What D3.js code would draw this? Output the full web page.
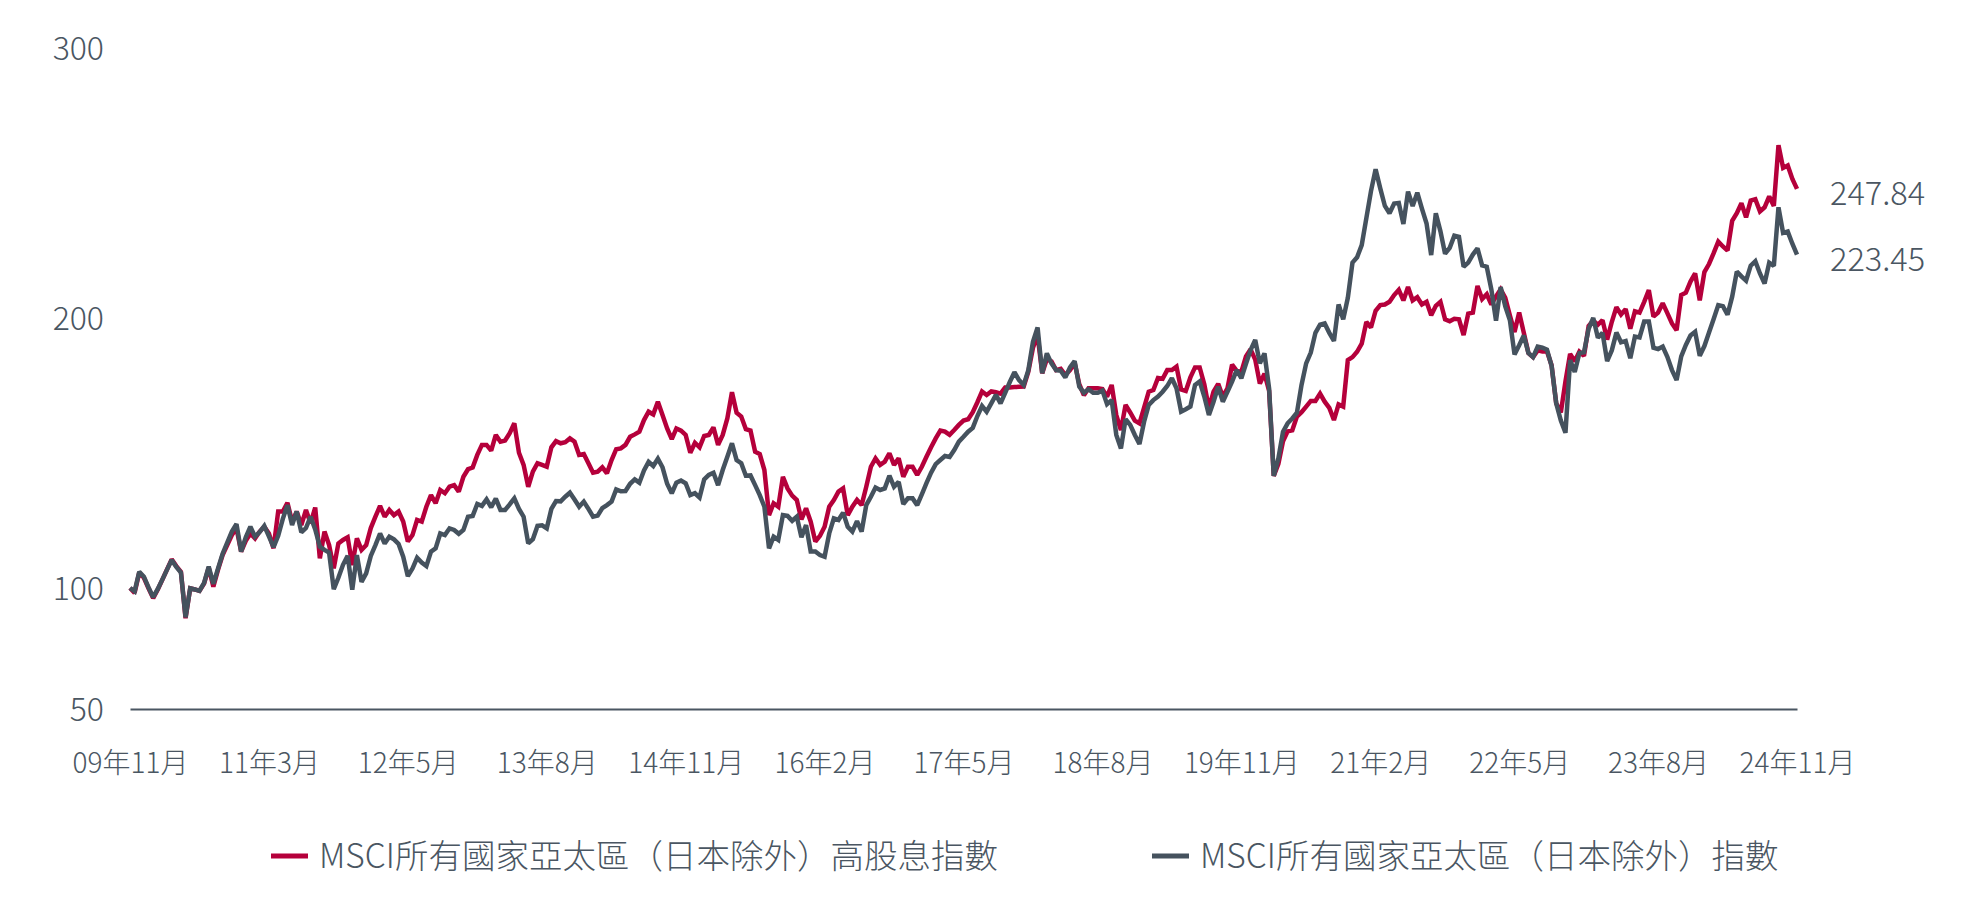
<!DOCTYPE html>
<html>
<head>
<meta charset="utf-8">
<script src="https://cdn.jsdelivr.net/npm/d3@7"></script>
<style>
  html, body { margin: 0; padding: 0; background: #ffffff; }
  svg { display: block; }
  text { font-family: "Noto Sans CJK TC", "Open Sans", sans-serif; font-weight: 300; fill: #4a5662; }
</style>
</head>
<body>
<svg id="chart" width="1984" height="911"></svg>
<script>
// ---- data (half-month steps from Nov 2009 to Nov 2024) ----
const seriesNames = ["MSCI所有國家亞太區（日本除外）高股息指數", "MSCI所有國家亞太區（日本除外）指數"];
const xTickLabels = ["09年11月","11年3月","12年5月","13年8月","14年11月","16年2月","17年5月","18年8月","19年11月","21年2月","22年5月","23年8月","24年11月"];
const yTicks = [50, 100, 200, 300];
const endLabels = ["247.84", "223.45"];

const highDividend = [
100,98.0,105.7,103.8,99.9,95.8,99.4,103.1,106.9,110.6,108.1,106.0,87.5,99.9,99.4,98.8,101.6,107.5,100.5,106.7,
112.2,115.9,119.6,122.1,113.5,117.5,120.2,118.4,120.9,122.7,120.2,114.7,128.3,128.3,131.6,124.6,128.3,123.3,128.9,124.0,
129.8,111.0,120.9,115.9,107.3,116.5,117.8,118.8,108.5,118.4,114.1,115.9,122.2,126.4,130.4,126.4,128.9,127.0,128.3,124.6,
117.2,119.6,125.2,124.6,130.1,134.4,131.4,136.3,135.1,137.5,138.1,135.7,141.2,144.0,144.6,149.3,153.0,153.0,150.9,156.7,
154.2,154.6,157.3,161.0,150.1,145.6,137.5,143.1,146.2,145.6,144.9,152.1,154.4,153.6,154.0,155.4,154.2,149.3,149.6,146.2,
142.7,143.1,144.7,142.5,147.4,151.4,151.7,153.0,156.0,156.9,157.9,162.2,165.3,164.3,169.0,164.1,159.1,155.1,159.1,158.3,
156.7,150.1,153.8,152.1,156.3,156.7,159.5,153.0,156.7,162.8,172.5,164.9,163.5,158.8,158.3,150.5,149.6,143.7,127.0,131.4,
130.1,141.2,136.9,134.2,132.6,125.4,129.5,124.6,117.2,119.3,122.7,130.1,132.6,135.7,136.9,127.0,130.1,132.6,130.7,137.5,
144.9,148.0,145.6,146.8,149.9,145.6,148.0,141.2,144.9,144.9,141.9,144.9,148.6,152.1,155.4,158.3,157.9,156.7,158.5,160.4,
162.0,162.5,165.1,168.8,172.8,171.5,172.8,172.5,172.0,174.3,174.3,174.4,174.5,174.6,180.1,189.0,193.5,179.5,184.8,183.9,
180.7,181.2,178.9,180.7,183.4,175.5,171.4,174.0,174.0,174.0,173.7,170.9,175.2,164.0,158.5,167.8,165.0,162.0,161.0,166.8,
172.7,173.3,177.8,177.5,180.7,180.7,182.0,173.5,173.0,178.0,181.7,181.7,175.5,166.5,172.7,175.6,170.9,173.9,182.7,180.4,
180.0,185.8,188.4,184.6,175.7,179.4,173.0,141.5,146.0,154.3,158.0,158.4,163.5,165.1,167.2,169.3,169.3,172.0,169.0,166.7,
162.2,168.0,167.2,184.4,185.5,187.5,190.5,198.5,196.5,202.7,204.8,205.0,206.0,208.5,210.4,206.5,211.5,206.5,207.7,205.0,
206.0,201.0,204.5,206.0,199.5,198.8,199.7,199.5,193.7,201.6,202.0,211.9,207.0,208.8,205.0,208.0,210.6,207.5,200.9,194.8,
202.0,194.5,187.0,185.5,188.0,187.6,187.7,182.5,168.4,165.0,176.5,186.7,184.0,187.5,186.0,197.0,199.0,197.5,199.2,192.0,
198.5,204.0,201.3,203.3,196.0,202.5,202.0,206.0,210.3,200.5,202.0,205.5,201.8,198.0,195.5,208.5,209.4,213.5,216.5,206.5,
217.0,220.0,224.0,228.3,226.5,225.0,236.0,238.8,242.5,237.3,243.5,244.0,239.5,241.0,245.0,241.5,264.0,255.6,256.5,251.5,
247.84
];

const broadIndex = [
100,98.6,106.0,104.2,100.2,96.2,99.6,103.2,106.8,110.4,107.8,105.7,87.9,99.9,99.4,98.8,101.9,107.9,101.5,107.2,
112.7,116.8,120.9,123.7,113.5,118.8,122.7,119.0,120.7,123.0,119.1,115.1,119.3,125.6,130.7,123.3,128.3,120.6,122.2,126.4,
121.7,115.3,114.1,113.1,99.5,103.8,108.6,111.9,99.3,112.2,102.3,105.4,111.9,115.9,120.2,116.5,119.0,118.0,116.3,111.6,
104.4,107.2,111.2,109.4,108.1,113.5,114.7,120.2,119.6,122.1,121.5,120.1,121.5,126.4,126.7,131.1,130.4,132.8,129.9,133.1,
128.9,128.9,131.0,133.2,129.3,126.4,116.5,118.1,123.0,123.2,122.1,129.3,132.2,132.1,133.8,135.3,132.8,130.1,132.0,129.3,
126.4,126.8,129.6,130.7,132.0,136.5,135.8,135.9,138.6,140.2,139.0,143.5,146.7,145.2,147.9,144.7,138.6,135.1,139.0,139.8,
138.8,134.4,135.1,133.5,140.2,141.9,142.7,138.1,143.7,148.6,153.6,147.4,146.2,141.6,141.7,138.1,134.4,130.1,114.7,119.0,
117.8,127.0,126.7,124.9,126.4,118.8,123.3,113.5,113.5,112.2,111.6,120.2,125.8,125.2,127.9,122.7,120.9,124.8,120.9,130.7,
133.8,137.2,136.3,136.9,141.6,137.5,139.3,131.1,133.2,133.2,130.7,134.7,138.8,142.7,145.9,147.4,148.9,148.5,151.1,154.2,
156.0,157.9,159.3,163.7,167.4,165.3,168.4,171.5,168.4,172.3,176.3,179.9,177.0,175.2,180.7,191.2,196.5,179.5,186.9,183.2,
180.7,180.5,178.0,181.7,184.0,174.6,172.3,173.6,172.3,172.3,173.1,168.1,169.6,156.7,151.7,162.5,160.4,156.7,153.3,161.6,
167.8,169.6,170.9,172.7,174.8,177.7,174.0,165.3,166.2,167.2,175.2,176.5,170.9,164.1,169.0,174.6,169.0,172.7,176.4,180.7,
177.7,183.0,188.1,191.9,183.2,186.9,173.9,141.5,148.0,157.9,161.0,162.8,164.9,175.2,183.2,187.2,194.5,197.5,198.0,194.5,
191.5,205.0,199.5,207.5,220.5,222.5,227.0,237.0,247.0,255.1,248.0,241.5,238.8,242.4,242.6,234.8,246.8,241.5,246.4,240.5,
235.0,223.3,238.8,232.1,223.8,226.0,230.5,230.1,219.0,220.5,223.5,225.8,219.5,219.0,210.5,199.0,211.5,204.3,199.2,186.5,
189.9,193.5,187.0,185.5,189.4,189.0,188.3,182.3,168.4,162.0,157.5,184.4,180.0,187.0,187.3,196.0,200.0,192.7,194.5,184.0,
188.0,194.6,191.0,191.5,185.1,193.1,192.8,198.7,198.7,189.0,188.5,189.4,185.6,180.7,177.0,185.8,190.0,193.5,194.9,186.0,
189.6,194.6,199.6,204.8,204.4,201.2,207.9,217.2,215.4,213.8,219.4,221.0,216.5,212.8,220.5,219.3,241.0,231.5,232.0,227.5,
223.45
];

const colors = ["#b5003b", "#45525e"];

// ---- layout ----
const svg = d3.select("#chart");
const plotLeft = 130, plotRight = 1797;

const x = d3.scaleLinear().domain([0, highDividend.length - 1]).range([plotLeft, plotRight]);
// axis starts at 50 below the 100 line (compressed lower segment as in the original)
const y = d3.scaleLinear().domain([50, 100, 300]).range([709, 588, 48]);

// y axis labels
const yAxis = d3.axisLeft(y).tickValues(yTicks).tickSize(0).tickPadding(0).tickFormat(d3.format("d"));
const gy = svg.append("g").attr("transform", "translate(104,0)").call(yAxis);
gy.select(".domain").remove();
gy.selectAll("text").attr("font-size", 32).attr("dy", "0.35em")
  .style("font-family", "'Noto Sans CJK TC', sans-serif").style("font-weight", 300).style("fill", "#4a5662");

// x axis (baseline at 50)
const xTickIdx = xTickLabels.map((_, k) => k * (highDividend.length - 1) / (xTickLabels.length - 1));
const xAxis = d3.axisBottom(x).tickValues(xTickIdx).tickSize(0).tickSizeOuter(0)
  .tickFormat((d, k) => xTickLabels[k]);
const gx = svg.append("g").attr("transform", `translate(0,${y(50)})`).call(xAxis);
gx.select(".domain").attr("stroke", "#4a5662").attr("stroke-width", 2);
gx.selectAll("text").attr("y", 54).attr("dy", "0.35em").attr("font-size", 28)
  .style("font-family", "'Noto Sans CJK TC', sans-serif").style("font-weight", 300).style("fill", "#4a5662");

// lines (broad index drawn on top, as in the original)
const line = d3.line().x((d, i) => x(i)).y(d => y(d)).curve(d3.curveLinear);
const allSeries = [highDividend, broadIndex];
svg.append("g").selectAll("path").data(allSeries).join("path")
  .attr("d", line)
  .attr("fill", "none")
  .attr("stroke", (d, k) => colors[k])
  .attr("stroke-width", 4.5)
  .attr("stroke-linejoin", "miter")
  .attr("stroke-miterlimit", 2);

// end labels
const endVals = [highDividend[highDividend.length - 1], broadIndex[broadIndex.length - 1]];
svg.append("g").selectAll("text").data(endLabels).join("text")
  .attr("x", 1830)
  .attr("y", (d, k) => y(endVals[k]) + 5)
  .attr("dy", "0.35em")
  .attr("font-size", 32.5)
  .text(d => d);

// legend
const legendX = [271, 1152];
const lg = svg.append("g").selectAll("g").data(seriesNames).join("g")
  .attr("transform", (d, k) => `translate(${legendX[k]},856)`);
lg.append("line").attr("x1", 0).attr("x2", 37).attr("y1", 0).attr("y2", 0)
  .attr("stroke", (d, k) => colors[k]).attr("stroke-width", 5);
lg.append("text").attr("x", 48).attr("dy", "0.35em").attr("font-size", 33.5).text(d => d);
</script>
</body>
</html>
